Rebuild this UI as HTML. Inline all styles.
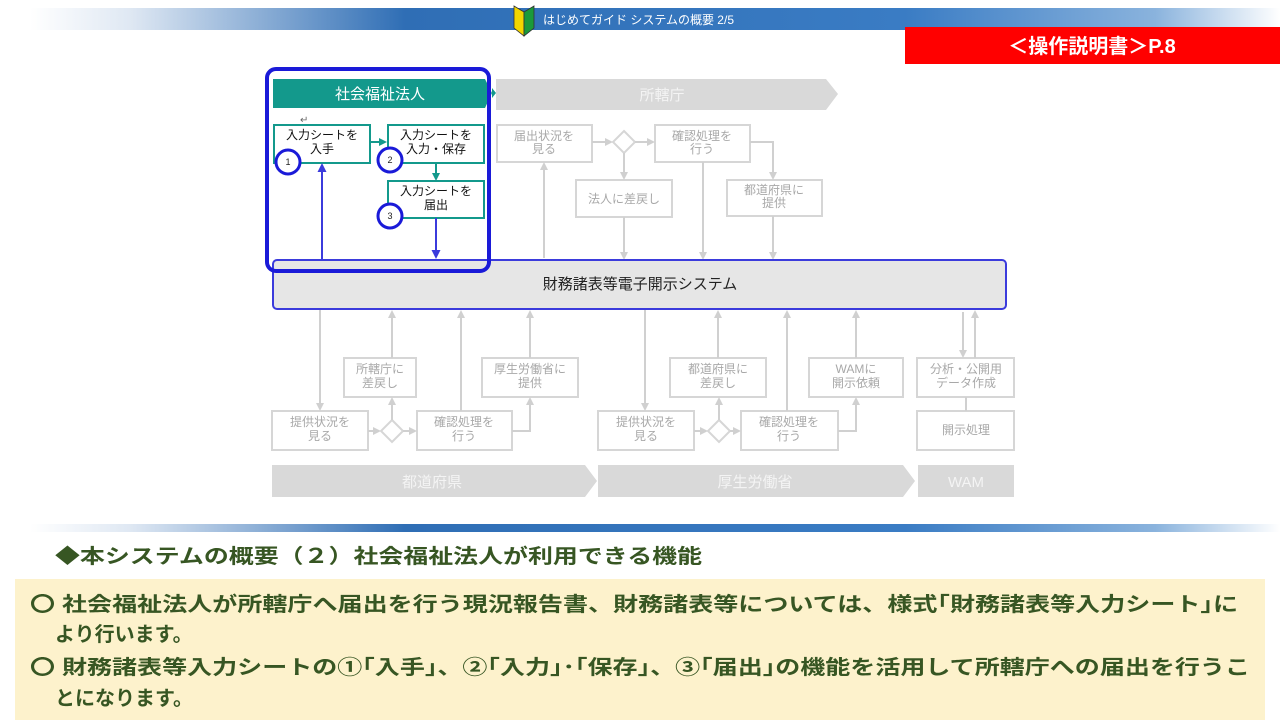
<!DOCTYPE html>
<html><head><meta charset="utf-8"><style>
html,body{margin:0;padding:0;background:#fff;}
svg{display:block;font-family:"Liberation Sans","Noto Sans CJK JP",sans-serif;}
</style></head><body>
<svg width="1280" height="720" viewBox="0 0 1280 720" xmlns="http://www.w3.org/2000/svg">
<defs>
<linearGradient id="bar" x1="0" x2="1" y1="0" y2="0">
<stop offset="0" stop-color="#fff"/><stop offset="0.08" stop-color="#dfe8f3"/><stop offset="0.3" stop-color="#2f6eb5"/><stop offset="0.7" stop-color="#3a7cc4"/><stop offset="0.9" stop-color="#8ab3dd"/><stop offset="1" stop-color="#fff"/>
</linearGradient>
<marker id="ag" markerWidth="8" markerHeight="8" refX="4" refY="4" orient="auto" markerUnits="userSpaceOnUse"><path d="M0,0 L8,4 L0,8 Z" fill="#d0d0d0"/></marker>
<marker id="at" markerWidth="8" markerHeight="8" refX="4" refY="4" orient="auto" markerUnits="userSpaceOnUse"><path d="M0,0 L8,4 L0,8 Z" fill="#13998c"/></marker>
<marker id="ab" markerWidth="9" markerHeight="9" refX="4" refY="4.5" orient="auto" markerUnits="userSpaceOnUse"><path d="M0,0 L9,4.5 L0,9 Z" fill="#3b3bdc"/></marker>
</defs>
<rect x="30" y="8" width="1250" height="22" fill="url(#bar)"/>
<path d="M514,6 L524,12 L524,36 L514,28 Z" fill="#f2d600" stroke="#333" stroke-width="0.8"/>
<path d="M534,6 L524,12 L524,36 L534,28 Z" fill="#1a9a3a" stroke="#333" stroke-width="0.8"/>
<text x="543" y="24" font-size="12" fill="#fff">はじめてガイド  システムの概要  2/5</text>
<rect x="905" y="27" width="375" height="37" fill="#ff0000"/>
<text x="1092" y="53" font-size="20" font-weight="bold" fill="#fff" text-anchor="middle">＜操作説明書＞P.8</text>

<path d="M273,79 L485,79 L492,93 L485,108 L273,108 Z" fill="#13998c"/>
<path d="M492,88 L496,93 L492,98 Z" fill="#13998c"/>
<text x="380" y="99" font-size="15" fill="#fff" text-anchor="middle">社会福祉法人</text>
<path d="M496,79 L826,79 L838,94 L826,110 L496,110 Z" fill="#d9d9d9"/>
<text x="662" y="100" font-size="15" fill="#f4f4f4" text-anchor="middle">所轄庁</text>

<g fill="#fff" stroke="#d6d6d6" stroke-width="2">
<rect x="497" y="125" width="95" height="37"/>
<rect x="655" y="125" width="95" height="37"/>
<rect x="576" y="180" width="96" height="37"/>
<rect x="727" y="180" width="95" height="36"/>
<path d="M624,131 L635,142 L624,153 L613,142 Z"/>
</g>
<g stroke="#d0d0d0" stroke-width="2" fill="none">
<line x1="592" y1="142" x2="609" y2="142" marker-end="url(#ag)"/>
<line x1="635" y1="142" x2="651" y2="142" marker-end="url(#ag)"/>
<line x1="624" y1="153" x2="624" y2="176" marker-end="url(#ag)"/>
<polyline points="750,142 773,142 773,176" marker-end="url(#ag)"/>
<line x1="544" y1="258" x2="544" y2="166" marker-end="url(#ag)"/>
<line x1="624" y1="217" x2="624" y2="256" marker-end="url(#ag)"/>
<line x1="703" y1="162" x2="703" y2="256" marker-end="url(#ag)"/>
<line x1="773" y1="216" x2="773" y2="256" marker-end="url(#ag)"/>
</g>
<g font-size="12" fill="#a8a8a8" text-anchor="middle">
<text x="544" y="140">届出状況を</text><text x="544" y="153">見る</text>
<text x="702" y="140">確認処理を</text><text x="702" y="153">行う</text>
<text x="624" y="203">法人に差戻し</text>
<text x="774" y="194">都道府県に</text><text x="774" y="207">提供</text>
</g>

<g fill="#fff" stroke="#13998c" stroke-width="2">
<rect x="274" y="125" width="96" height="38"/>
<rect x="388" y="125" width="96" height="38"/>
<rect x="388" y="181" width="96" height="37"/>
</g>
<g stroke="#13998c" stroke-width="2">
<line x1="370" y1="142" x2="383" y2="142" marker-end="url(#at)"/>
<line x1="436" y1="163" x2="436" y2="177" marker-end="url(#at)"/>
</g>
<text x="300" y="123" font-size="10" fill="#666">↵</text>
<g font-size="12" fill="#111" text-anchor="middle">
<text x="322" y="139">入力シートを</text><text x="322" y="153">入手</text>
<text x="436" y="139">入力シートを</text><text x="436" y="153">入力・保存</text>
<text x="436" y="195">入力シートを</text><text x="436" y="209">届出</text>
</g>
<g stroke="#3b3bdc" stroke-width="2">
<line x1="436" y1="218" x2="436" y2="254" marker-end="url(#ab)"/>
<line x1="322" y1="260" x2="322" y2="168" marker-end="url(#ab)"/>
</g>
<g fill="#fff" stroke="#1a1ad8" stroke-width="3">
<circle cx="288" cy="162" r="12"/><circle cx="390" cy="160" r="12"/><circle cx="390" cy="216" r="12"/>
</g>
<g font-size="9" fill="#222" text-anchor="middle">
<text x="288" y="165">1</text><text x="390" y="163">2</text><text x="390" y="219">3</text>
</g>

<rect x="273" y="260" width="733" height="49" rx="4" fill="#e6e6e6" stroke="#3b3bdc" stroke-width="2"/>
<text x="640" y="289" font-size="15" fill="#222" text-anchor="middle">財務諸表等電子開示システム</text>
<rect x="267" y="69" width="222" height="202" rx="9" fill="none" stroke="#1a1ad8" stroke-width="4"/>

<g fill="#fff" stroke="#d6d6d6" stroke-width="2">
<rect x="344" y="358" width="72" height="39"/>
<rect x="482" y="358" width="96" height="39"/>
<rect x="272" y="411" width="96" height="39"/>
<rect x="417" y="411" width="95" height="39"/>
<rect x="598" y="411" width="96" height="39"/>
<rect x="741" y="411" width="97" height="39"/>
<rect x="670" y="358" width="96" height="39"/>
<rect x="809" y="358" width="94" height="39"/>
<rect x="917" y="358" width="97" height="39"/>
<rect x="917" y="411" width="97" height="39"/>
<path d="M392,420 L403,431 L392,442 L381,431 Z"/>
<path d="M719,420 L730,431 L719,442 L708,431 Z"/>
</g>
<g stroke="#d0d0d0" stroke-width="2" fill="none">
<line x1="320" y1="310" x2="320" y2="407" marker-end="url(#ag)"/>
<line x1="368" y1="431" x2="377" y2="431" marker-end="url(#ag)"/>
<line x1="403" y1="431" x2="413" y2="431" marker-end="url(#ag)"/>
<line x1="392" y1="420" x2="392" y2="401" marker-end="url(#ag)"/>
<line x1="392" y1="358" x2="392" y2="314" marker-end="url(#ag)"/>
<line x1="461" y1="411" x2="461" y2="314" marker-end="url(#ag)"/>
<polyline points="512,431 530,431 530,401" marker-end="url(#ag)"/>
<line x1="530" y1="358" x2="530" y2="314" marker-end="url(#ag)"/>
<line x1="645" y1="310" x2="645" y2="407" marker-end="url(#ag)"/>
<line x1="694" y1="431" x2="704" y2="431" marker-end="url(#ag)"/>
<line x1="730" y1="431" x2="737" y2="431" marker-end="url(#ag)"/>
<line x1="719" y1="420" x2="719" y2="401" marker-end="url(#ag)"/>
<line x1="718" y1="358" x2="718" y2="314" marker-end="url(#ag)"/>
<line x1="787" y1="411" x2="787" y2="314" marker-end="url(#ag)"/>
<polyline points="838,431 856,431 856,401" marker-end="url(#ag)"/>
<line x1="856" y1="358" x2="856" y2="314" marker-end="url(#ag)"/>
<line x1="963" y1="312" x2="963" y2="354" marker-end="url(#ag)"/>
<line x1="975" y1="358" x2="975" y2="314" marker-end="url(#ag)"/>
<line x1="966" y1="397" x2="966" y2="411"/>
</g>
<g font-size="12" fill="#a8a8a8" text-anchor="middle">
<text x="380" y="373">所轄庁に</text><text x="380" y="387">差戻し</text>
<text x="530" y="373">厚生労働省に</text><text x="530" y="387">提供</text>
<text x="320" y="426">提供状況を</text><text x="320" y="440">見る</text>
<text x="464" y="426">確認処理を</text><text x="464" y="440">行う</text>
<text x="646" y="426">提供状況を</text><text x="646" y="440">見る</text>
<text x="789" y="426">確認処理を</text><text x="789" y="440">行う</text>
<text x="718" y="373">都道府県に</text><text x="718" y="387">差戻し</text>
<text x="856" y="373">WAMに</text><text x="856" y="387">開示依頼</text>
<text x="966" y="373">分析・公開用</text><text x="966" y="387">データ作成</text>
<text x="966" y="434">開示処理</text>
</g>
<path d="M272,465 L585,465 L597,481 L585,497 L272,497 Z" fill="#d9d9d9"/>
<path d="M598,465 L903,465 L915,481 L903,497 L598,497 Z" fill="#d9d9d9"/>
<rect x="918" y="465" width="96" height="32" fill="#d9d9d9"/>
<g font-size="15" fill="#f4f4f4" text-anchor="middle">
<text x="432" y="487">都道府県</text><text x="755" y="487">厚生労働省</text><text x="966" y="487">WAM</text>
</g>

<rect x="30" y="524" width="1250" height="8" fill="url(#bar)"/>
<text x="55" y="563" font-size="20" font-weight="bold" fill="#375623" textLength="647" lengthAdjust="spacingAndGlyphs">◆本システムの概要（２）社会福祉法人が利用できる機能</text>
<rect x="15" y="579" width="1250" height="141" fill="#fdf2cc"/>
<g font-size="20" font-weight="bold" fill="#375623">
<text x="30" y="611" textLength="1208" lengthAdjust="spacingAndGlyphs">〇 社会福祉法人が所轄庁へ届出を行う現況報告書、財務諸表等については、様式｢財務諸表等入力シート｣に</text>
<text x="55" y="641">より行います。</text>
<text x="30" y="674" textLength="1220" lengthAdjust="spacingAndGlyphs">〇 財務諸表等入力シートの①｢入手｣、②｢入力｣･｢保存｣、③｢届出｣の機能を活用して所轄庁への届出を行うこ</text>
<text x="55" y="705">とになります。</text>
</g>
</svg>
</body></html>
